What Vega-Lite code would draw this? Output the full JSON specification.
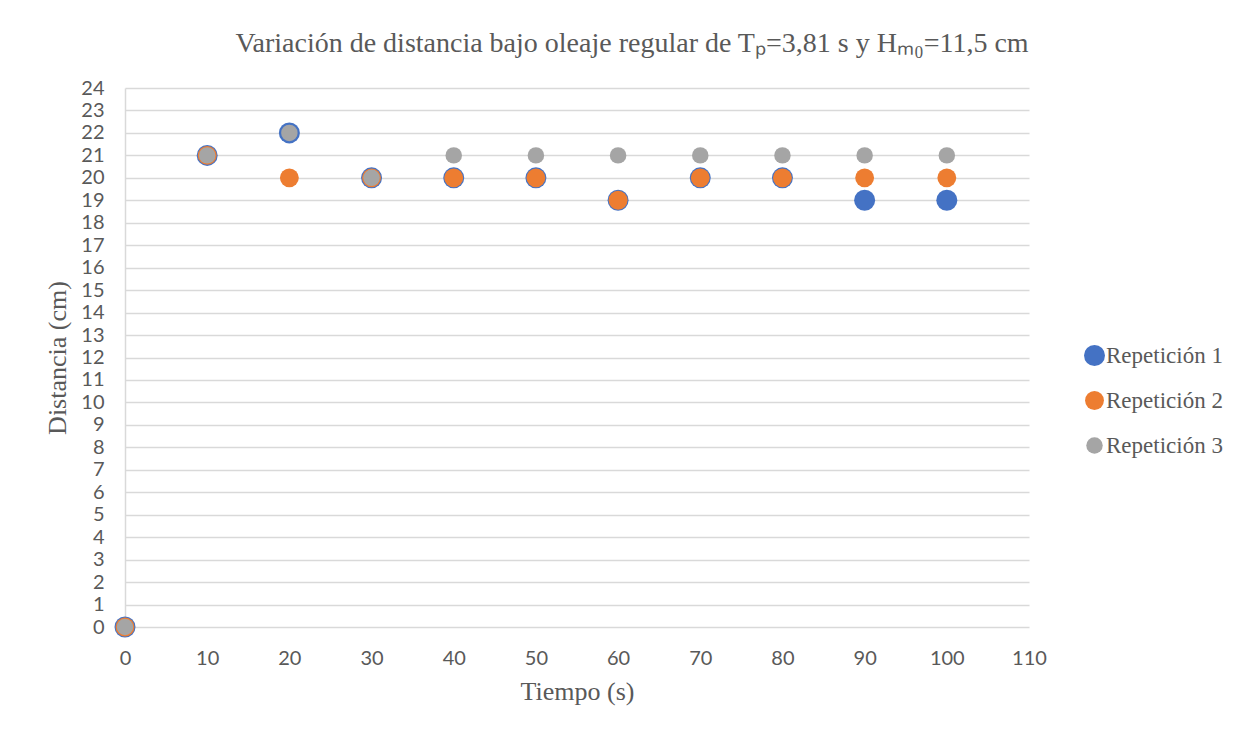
{
  "$schema": "https://vega.github.io/schema/vega-lite/v6.json",
  "autosize": {"type": "none"},
  "width": 904,
  "height": 539,
  "padding": {"left": 125, "top": 88, "right": 224, "bottom": 114},
  "background": "white",
  "title": {
    "text": "Variación de distancia bajo oleaje regular de Tₚ=3,81 s y Hₘ₀=11,5 cm",
    "font": "Liberation Serif",
    "fontSize": 28,
    "fontWeight": "normal",
    "color": "#595959",
    "anchor": "middle",
    "dx": 55,
    "offset": 20
  },
  "data": {
    "values": [
      {"serie": "Repetición 1", "t": 0, "d": 0},
      {"serie": "Repetición 1", "t": 10, "d": 21},
      {"serie": "Repetición 1", "t": 20, "d": 22},
      {"serie": "Repetición 1", "t": 30, "d": 20},
      {"serie": "Repetición 1", "t": 40, "d": 20},
      {"serie": "Repetición 1", "t": 50, "d": 20},
      {"serie": "Repetición 1", "t": 60, "d": 19},
      {"serie": "Repetición 1", "t": 70, "d": 20},
      {"serie": "Repetición 1", "t": 80, "d": 20},
      {"serie": "Repetición 1", "t": 90, "d": 19},
      {"serie": "Repetición 1", "t": 100, "d": 19},
      {"serie": "Repetición 2", "t": 0, "d": 0},
      {"serie": "Repetición 2", "t": 10, "d": 21},
      {"serie": "Repetición 2", "t": 20, "d": 20},
      {"serie": "Repetición 2", "t": 30, "d": 20},
      {"serie": "Repetición 2", "t": 40, "d": 20},
      {"serie": "Repetición 2", "t": 50, "d": 20},
      {"serie": "Repetición 2", "t": 60, "d": 19},
      {"serie": "Repetición 2", "t": 70, "d": 20},
      {"serie": "Repetición 2", "t": 80, "d": 20},
      {"serie": "Repetición 2", "t": 90, "d": 20},
      {"serie": "Repetición 2", "t": 100, "d": 20},
      {"serie": "Repetición 3", "t": 0, "d": 0},
      {"serie": "Repetición 3", "t": 10, "d": 21},
      {"serie": "Repetición 3", "t": 20, "d": 22},
      {"serie": "Repetición 3", "t": 30, "d": 20},
      {"serie": "Repetición 3", "t": 40, "d": 21},
      {"serie": "Repetición 3", "t": 50, "d": 21},
      {"serie": "Repetición 3", "t": 60, "d": 21},
      {"serie": "Repetición 3", "t": 70, "d": 21},
      {"serie": "Repetición 3", "t": 80, "d": 21},
      {"serie": "Repetición 3", "t": 90, "d": 21},
      {"serie": "Repetición 3", "t": 100, "d": 21}
    ]
  },
  "mark": {"type": "point", "filled": true, "shape": "circle", "opacity": 1, "strokeWidth": 0},
  "encoding": {
    "x": {
      "field": "t", "type": "quantitative",
      "scale": {"domain": [0, 110], "nice": false, "zero": true},
      "axis": {
        "title": "Tiempo (s)",
        "values": [0, 10, 20, 30, 40, 50, 60, 70, 80, 90, 100, 110],
        "grid": false, "domain": false, "ticks": false,
        "labelFlush": false,
        "labelFont": "Lato", "labelFontSize": 20, "labelColor": "#595959",
        "labelPadding": 21,
        "titleFont": "Liberation Serif", "titleFontSize": 26, "titleFontWeight": "normal",
        "titleColor": "#595959", "titlePadding": 10
      }
    },
    "y": {
      "field": "d", "type": "quantitative",
      "scale": {"domain": [0, 24], "nice": false},
      "axis": {
        "title": "Distancia (cm)",
        "values": [0,1,2,3,4,5,6,7,8,9,10,11,12,13,14,15,16,17,18,19,20,21,22,23,24],
        "grid": true, "gridColor": "#d9d9d9", "gridWidth": 1.5,
        "domain": true, "domainColor": "#d9d9d9", "domainWidth": 1.5,
        "ticks": false,
        "labelFlush": false,
        "labelFont": "Lato", "labelFontSize": 20, "labelColor": "#595959",
        "labelPadding": 21,
        "titleFont": "Liberation Serif", "titleFontSize": 26, "titleFontWeight": "normal",
        "titleColor": "#595959", "titlePadding": 10
      }
    },
    "color": {
      "field": "serie", "type": "nominal",
      "scale": {"domain": ["Repetición 1", "Repetición 2", "Repetición 3"], "range": ["#4472c4", "#ed7d31", "#a5a5a5"]},
      "legend": {
        "title": null,
        "orient": "none",
        "legendX": 958,
        "legendY": 256,
        "labelFont": "Liberation Serif", "labelFontSize": 23, "labelColor": "#595959",
        "labelOffset": 0,
        "rowPadding": 21,
        "symbolType": "circle"
      }
    },
    "size": {
      "field": "serie", "type": "nominal",
      "scale": {"domain": ["Repetición 1", "Repetición 2", "Repetición 3"], "range": [441, 272, 306]},
      "legend": null
    }
  },
  "config": {
    "view": {"stroke": null},
    "axis": {"labelFontWeight": "normal"}
  }
}
